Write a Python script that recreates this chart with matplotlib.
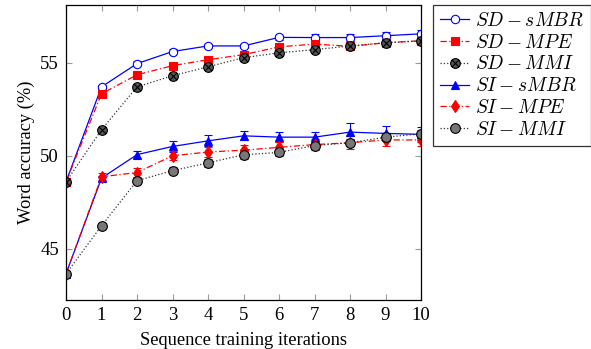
import numpy as np
import matplotlib
matplotlib.use('Agg')
import matplotlib.pyplot as plt
from matplotlib.path import Path
from matplotlib.lines import Line2D

plt.rcParams['font.family'] = 'Liberation Serif'
plt.rcParams['mathtext.fontset'] = 'cm'

iterations = list(range(11))

sd_smbr = [48.6, 53.7, 54.95, 55.6, 55.9, 55.9, 56.36, 56.35, 56.35, 56.45, 56.55]
sd_mpe = [48.6, 53.33, 54.35, 54.84, 55.16, 55.43, 55.85, 56.0, 55.88, 56.07, 56.18]
sd_mmi = [48.6, 51.4, 53.7, 54.3, 54.78, 55.27, 55.53, 55.7, 55.9, 56.07, 56.17]
si_smbr = [43.66, 48.8, 50.06, 50.5, 50.8, 51.07, 51.0, 51.0, 51.27, 51.2, 51.15]
si_mpe = [43.66, 48.87, 49.1, 50.0, 50.2, 50.3, 50.45, 50.6, 50.7, 50.85, 50.85]
si_mmi = [43.66, 46.24, 48.66, 49.2, 49.62, 50.05, 50.18, 50.55, 50.7, 51.0, 51.18]

sd_smbr_err = [0.0, 0.1, 0.12, 0.12, 0.1, 0.12, 0.15, 0.2, 0.2, 0.2, 0.2]
sd_mpe_err = [0.0, 0.1, 0.1, 0.1, 0.1, 0.1, 0.15, 0.15, 0.15, 0.1, 0.1]
sd_mmi_err = [0.0, 0.1, 0.1, 0.1, 0.1, 0.1, 0.1, 0.1, 0.1, 0.1, 0.1]
si_smbr_err = [0.0, 0.12, 0.18, 0.3, 0.3, 0.25, 0.25, 0.25, 0.5, 0.4, 0.4]
si_mpe_err = [0.0, 0.2, 0.25, 0.25, 0.25, 0.3, 0.3, 0.3, 0.35, 0.35, 0.3]
si_mmi_err = [0.0, 0.1, 0.15, 0.2, 0.2, 0.2, 0.2, 0.2, 0.2, 0.2, 0.2]

labels = [r'$SD-sMBR$', r'$SD-MPE$', r'$SD-MMI$',
          r'$SI-sMBR$', r'$SI-MPE$', r'$SI-MMI$']

# circle with a cross (otimes)
circ = Path.unit_circle()
d = 0.7071
otimes = Path(np.concatenate([circ.vertices, [[-d, -d], [d, d], [-d, d], [d, -d]]]),
              np.concatenate([circ.codes, [Path.MOVETO, Path.LINETO, Path.MOVETO, Path.LINETO]]))

series = [
    (sd_smbr, sd_smbr_err, dict(color='#0000ff', ls='-', marker='o', mfc='white', mec='#0000ff', ms=6)),
    (sd_mpe, sd_mpe_err, dict(color='#ff0000', ls=(0, (5, 2, 1, 2)), marker='s', mfc='#ff0000', mec='#ff0000', ms=6)),
    (sd_mmi, sd_mmi_err, dict(color='#333333', ls=':', marker=otimes, mfc='#555555', mec='black', ms=7)),
    (si_smbr, si_smbr_err, dict(color='#0000ff', ls='-', marker='^', mfc='#0000ff', mec='#0000ff', ms=6)),
    (si_mpe, si_mpe_err, dict(color='#ff0000', ls=(0, (5, 2, 1, 2)), marker='d', mfc='#ff0000', mec='#ff0000', ms=6)),
    (si_mmi, si_mmi_err, dict(color='#333333', ls=':', marker='o', mfc='#777777', mec='black', ms=7)),
]

fig = plt.figure(figsize=(5.91, 3.49), dpi=100)
ax = fig.add_axes([0.1117, 0.1404, 0.6007, 0.8453])

handles = []
for (vals, err, st), lab in zip(series, labels):
    ax.errorbar(iterations, vals, yerr=err, capsize=3, elinewidth=0.8, lw=0.9,
                markeredgewidth=0.8, **st)
    handles.append(Line2D([], [], lw=0.9, markeredgewidth=0.8, label=lab, **st))

ax.set_xlim(0, 10)
ax.set_ylim(42.25, 58.1)
ax.set_xticks(iterations)
ax.set_yticks([45, 50, 55])
ax.tick_params(direction='in', length=4, color='#999999', width=0.8,
               top=True, right=True, labelsize=13.5, pad=5)
for s in ax.spines.values():
    s.set_linewidth(0.9)

ax.set_xlabel('Sequence training iterations', fontsize=13.3, labelpad=6)
ax.set_ylabel('Word accuracy (%)', fontsize=13.3, labelpad=4)

leg = ax.legend(handles=handles, loc='upper left', bbox_to_anchor=(0.733, 0.986),
                bbox_transform=fig.transFigure,
                fontsize=14, frameon=True, fancybox=False, edgecolor='black',
                handlelength=1.5, labelspacing=0.2, borderaxespad=0, handletextpad=0.3,
                borderpad=0.35)
leg.get_frame().set_linewidth(0.9)

fig.savefig('out.png', dpi=100)
